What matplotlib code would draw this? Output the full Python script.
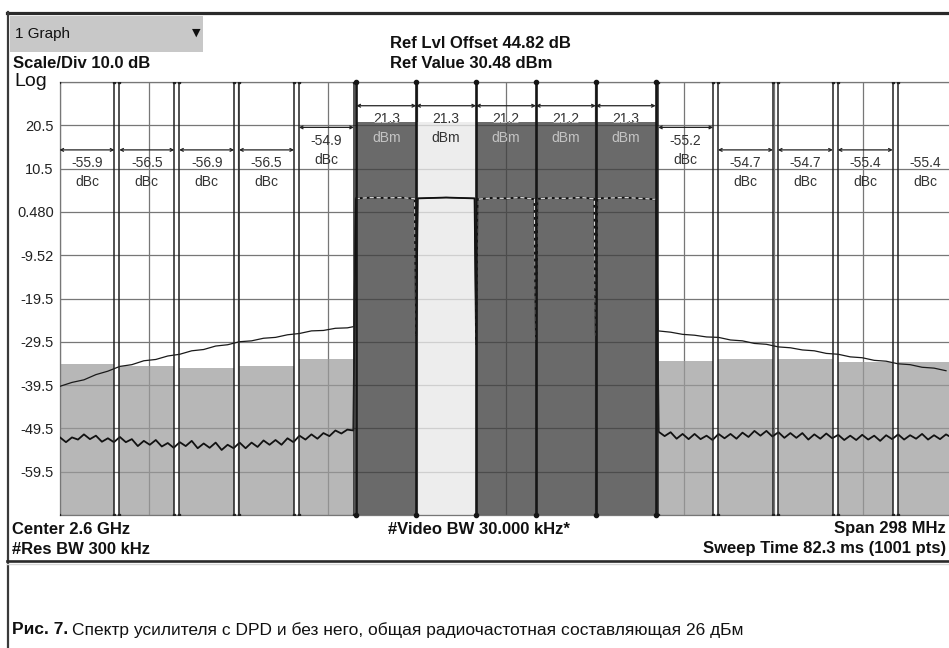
import matplotlib
matplotlib.use('Agg')
import matplotlib.pyplot as plt
import numpy as np
from matplotlib.patches import Rectangle
from matplotlib.lines import Line2D

plt.rcParams['font.family'] = ['Liberation Sans', 'DejaVu Sans']

W, H = 949, 648

# ---- data: frequency offset from 2.6 GHz (MHz), level (dBm) ----
y_tick_values = [30.48, 20.48, 10.48, 0.48, -9.52, -19.52, -29.52, -39.52, -49.52, -59.52, -69.52]
y_tick_labels = ['', '20.5', '10.5', '0.480', '-9.52', '-19.5', '-29.5', '-39.5', '-49.5', '-59.5', '']

carrier_edges = [-50, -30, -10, 10, 30, 50]
carrier_power = [21.3, 21.3, 21.2, 21.2, 21.3]
carrier_bracket = 25.0

acp_centers = [-140, -120, -100, -80, -60, 60, 80, 100, 120, 140]
acp_dbc = [-55.9, -56.5, -56.9, -56.5, -54.9, -55.2, -54.7, -54.7, -55.4, -55.4]
acp_bracket = [14.8, 14.8, 14.8, 14.8, 20.0, 20.0, 14.8, 14.8, 14.8, 14.8]
acp_bw = 18.4

# trace without DPD (outside the carriers)
nodpd_left_f = [-149, -145, -141, -137, -133, -129, -125, -121, -117, -113,
                -109, -105, -101, -97, -93, -89, -85, -81, -77, -73,
                -69, -65, -61, -57, -53, -50.8]
nodpd_left = [-39.8, -38.9, -38.3, -37.1, -36.3, -35.2, -34.8, -33.9, -33.6, -32.8,
              -32.4, -31.6, -31.3, -30.5, -30.2, -29.5, -29.3, -28.7, -28.5, -27.9,
              -27.6, -27.0, -26.9, -26.4, -26.3, -26.0]
nodpd_right_f = [50.8, 55, 59, 63, 67, 71, 75, 79, 83, 87,
                 91, 95, 99, 103, 107, 111, 115, 119, 123, 127,
                 131, 135, 139, 143, 147]
nodpd_right = [-27.0, -27.3, -27.8, -28.0, -28.4, -28.5, -29.1, -29.3, -29.9, -30.1,
               -30.7, -30.9, -31.4, -31.6, -32.2, -32.4, -33.0, -33.2, -33.8, -34.0,
               -34.6, -34.8, -35.4, -35.6, -36.2]

# trace with DPD (outside the carriers)
dpd_left_f = np.arange(-149, -50, 2)
dpd_left = [-51.6, -52.7, -51.6, -52.1, -50.9, -52.0, -51.2, -52.6, -51.8, -52.7,
            -51.5, -52.7, -52.0, -53.6, -52.4, -53.3, -52.2, -53.7, -52.9, -54.0,
            -52.7, -53.6, -52.4, -54.1, -53.0, -54.0, -52.8, -54.5, -53.3, -54.1,
            -52.8, -54.1, -52.8, -53.8, -52.3, -53.3, -52.2, -53.3, -51.8, -52.7,
            -51.2, -52.1, -50.9, -51.9, -50.6, -51.3, -50.0, -50.7, -49.8, -50.0]
dpd_right_f = np.arange(51, 150, 2)
dpd_right = [-50.3, -51.3, -50.4, -51.9, -50.8, -52.0, -50.8, -52.0, -51.2, -52.2,
             -50.8, -51.8, -50.8, -51.9, -50.5, -51.5, -50.1, -51.2, -50.1, -51.4,
             -50.4, -51.7, -50.6, -51.7, -50.6, -52.1, -50.9, -51.9, -50.7, -51.8,
             -51.0, -52.2, -51.2, -52.2, -51.0, -52.1, -51.2, -52.4, -51.1, -52.0,
             -50.9, -52.1, -51.1, -51.9, -50.8, -52.1, -51.1, -52.0, -50.9, -51.7]

# in-band trace (both traces coincide inside the carriers)
inband_f = [-50.2, -49.5, -45, -40, -35, -30.5, -30.0, -29.5, -25, -20, -15, -10.5,
            -10.0, -9.5, -5, 0, 5, 9.5, 10.0, 10.5, 15, 20, 25, 29.5, 30.0, 30.5,
            35, 40, 45, 49.5, 50.2]
inband = [3.6, 3.6, 3.8, 3.7, 3.8, 3.5, -28.0, 3.6, 3.7, 3.8, 3.7, 3.6,
          -30.0, 3.4, 3.7, 3.6, 3.8, 3.4, -29.0, 3.5, 3.7, 3.6, 3.8, 3.5, -28.0, 3.6,
          3.7, 3.8, 3.6, 3.4, 3.5]

# ---- figure ----
fig = plt.figure(figsize=(W / 100, H / 100), dpi=100)
fig.patch.set_facecolor('white')


def fx(x):
    return x / W


def fy(y):
    return 1 - y / H


ymin, ymax = y_tick_values[-1], y_tick_values[0]
ax = fig.add_axes([fx(60), fy(515), 892 / W, 433 / H])
ax.set_xlim(-149, 149)
ax.set_ylim(ymin, ymax)
ax.set_xticks(np.linspace(-149, 149, 11))
ax.set_xticklabels([])
ax.set_yticks(y_tick_values)
ax.set_yticklabels(y_tick_labels)
ax.tick_params(length=0, labelsize=10.5, pad=4.5, labelcolor='#222222')
ax.set_axisbelow(True)
ax.grid(True, color='#777777', lw=0.9)
for s in ax.spines.values():
    s.set_color('#777777')
    s.set_linewidth(0.9)

# carriers
light_idx = 1
for i in range(len(carrier_power)):
    x0, x1 = carrier_edges[i], carrier_edges[i + 1]
    p = carrier_power[i]
    col = '#e9e9e9' if i == light_idx else '#404040'
    ax.add_patch(Rectangle((x0, ymin), x1 - x0, p - ymin, facecolor=col,
                           edgecolor='none', alpha=0.78, zorder=2))
    ax.annotate('', xy=(x1, carrier_bracket), xytext=(x0, carrier_bracket),
                arrowprops=dict(arrowstyle='<->', lw=0.9, color='#222222',
                                shrinkA=0, shrinkB=0, mutation_scale=5), zorder=7)
    xc = (x0 + x1) / 2
    inside = Rectangle((x0, ymin), x1 - x0, p - ymin, transform=ax.transData)
    above = Rectangle((x0, p), x1 - x0, ymax - p + 5, transform=ax.transData)
    for txt, dy in ((f'{p:.1f}', -9.7), ('dBm', -23.4)):
        if i == light_idx:
            ax.annotate(txt, (xc, carrier_bracket), xytext=(0, dy), textcoords='offset points',
                        ha='center', va='center', fontsize=10, color='#333333', zorder=8)
        else:
            t1 = ax.annotate(txt, (xc, carrier_bracket), xytext=(0, dy), textcoords='offset points',
                             ha='center', va='center', fontsize=10, color='#333333', zorder=8)
            t1.set_clip_path(above)
            t2 = ax.annotate(txt, (xc, carrier_bracket), xytext=(0, dy), textcoords='offset points',
                             ha='center', va='center', fontsize=10, color='#c4c4c4', zorder=8)
            t2.set_clip_path(inside)

# adjacent channel boxes
for i, (c, d) in enumerate(zip(acp_centers, acp_dbc)):
    ref = carrier_power[0] if c < 0 else carrier_power[-1]
    level = ref + d
    x0, x1 = c - acp_bw / 2, c + acp_bw / 2
    ax.add_patch(Rectangle((x0, ymin), x1 - x0, level - ymin, facecolor='#9c9c9c',
                           edgecolor='none', alpha=0.72, zorder=2))
    for e in (x0, x1):
        ax.plot([e, e], [ymin, ymax], color='#222222', lw=1.1, zorder=6,
                marker='s', ms=1.8, clip_on=True)
    ax.annotate('', xy=(x1, acp_bracket[i]), xytext=(x0, acp_bracket[i]),
                arrowprops=dict(arrowstyle='<->', lw=0.9, color='#222222',
                                shrinkA=0, shrinkB=0, mutation_scale=5), zorder=7)
    ax.annotate(f'{d:.1f}', (c, acp_bracket[i]), xytext=(0, -9.7), textcoords='offset points',
                ha='center', va='center', fontsize=10, color='#333333', zorder=8)
    ax.annotate('dBc', (c, acp_bracket[i]), xytext=(0, -23.4), textcoords='offset points',
                ha='center', va='center', fontsize=10, color='#333333', zorder=8)

# traces
nodpd_f = np.concatenate([nodpd_left_f, inband_f, nodpd_right_f])
nodpd_v = np.concatenate([nodpd_left, inband, nodpd_right])
dpd_f = np.concatenate([dpd_left_f, inband_f, dpd_right_f])
dpd_v = np.concatenate([dpd_left, inband, dpd_right])
ax.plot(nodpd_f, nodpd_v, color='#1a1a1a', lw=0.9, zorder=4)
ax.plot(dpd_f, dpd_v, color='#111111', lw=1.3, zorder=4)

inband_f_arr = np.array(inband_f)
in_light = (inband_f_arr > carrier_edges[light_idx]) & (inband_f_arr < carrier_edges[light_idx + 1])
dark_part = np.where(in_light, np.nan, np.array(inband))
ax.plot(inband_f_arr, dark_part, color='#d4d4d4', lw=1.0, ls=(0, (3, 2)), zorder=5)

# carrier boundary lines
for e in carrier_edges:
    ax.plot([e, e], [ymin, ymax], color='#151515', lw=1.9, zorder=6,
            marker='o', ms=3, clip_on=False)

# ---- screen frame ----
fig.add_artist(Rectangle((fx(10), fy(52)), (203 - 10) / W, (52 - 16) / H,
                         transform=fig.transFigure, facecolor='#c8c8c8', edgecolor='none'))
fig.add_artist(Line2D([fx(7), fx(949)], [fy(12.5), fy(12.5)], color='#2a2a2a', lw=2.3))
fig.add_artist(Line2D([fx(7.5), fx(7.5)], [fy(11.5), fy(648)], color='#3a3a3a', lw=1.6))
fig.add_artist(Line2D([fx(7), fx(949)], [fy(560.5), fy(560.5)], color='#2a2a2a', lw=1.9))
fig.add_artist(Line2D([fx(7), fx(949)], [fy(564), fy(564)], color='#d8d8d8', lw=1.0))

bold = dict(fontsize=12, fontweight='bold', color='#111111', va='center')
fig.text(fx(15), fy(34), '1 Graph', fontsize=11, color='#111111', va='center')
fig.text(fx(196), fy(33), '▼', fontsize=8, color='#111111', va='center', ha='center',
         family=['DejaVu Sans'])
fig.text(fx(13), fy(64), 'Scale/Div 10.0 dB', **bold)
fig.text(fx(14), fy(81), 'Log', fontsize=14, color='#111111', va='center')
fig.text(fx(390), fy(44), 'Ref Lvl Offset 44.82 dB', **bold)
fig.text(fx(390), fy(64), 'Ref Value 30.48 dBm', **bold)
fig.text(fx(12), fy(529), 'Center 2.6 GHz', **bold)
fig.text(fx(388), fy(529), '#Video BW 30.000 kHz*', **bold)
fig.text(fx(946), fy(529), 'Span 298 MHz', ha='right', **bold)
fig.text(fx(12), fy(549), '#Res BW 300 kHz', **bold)
fig.text(fx(946), fy(549), 'Sweep Time 82.3 ms (1001 pts)', ha='right', **bold)

# caption
cap1 = fig.text(fx(12), fy(630), 'Рис. 7.', fontsize=12.5, fontweight='bold',
                color='#111111', va='center')
fig.canvas.draw()
bb = cap1.get_window_extent()
fig.text((bb.x1 + 4) / W, fy(630), 'Спектр усилителя с DPD и без него, общая радиочастотная '
         'составляющая 26 дБм', fontsize=12.5, color='#111111', va='center')

fig.savefig('out.png', dpi=100, facecolor='white')
